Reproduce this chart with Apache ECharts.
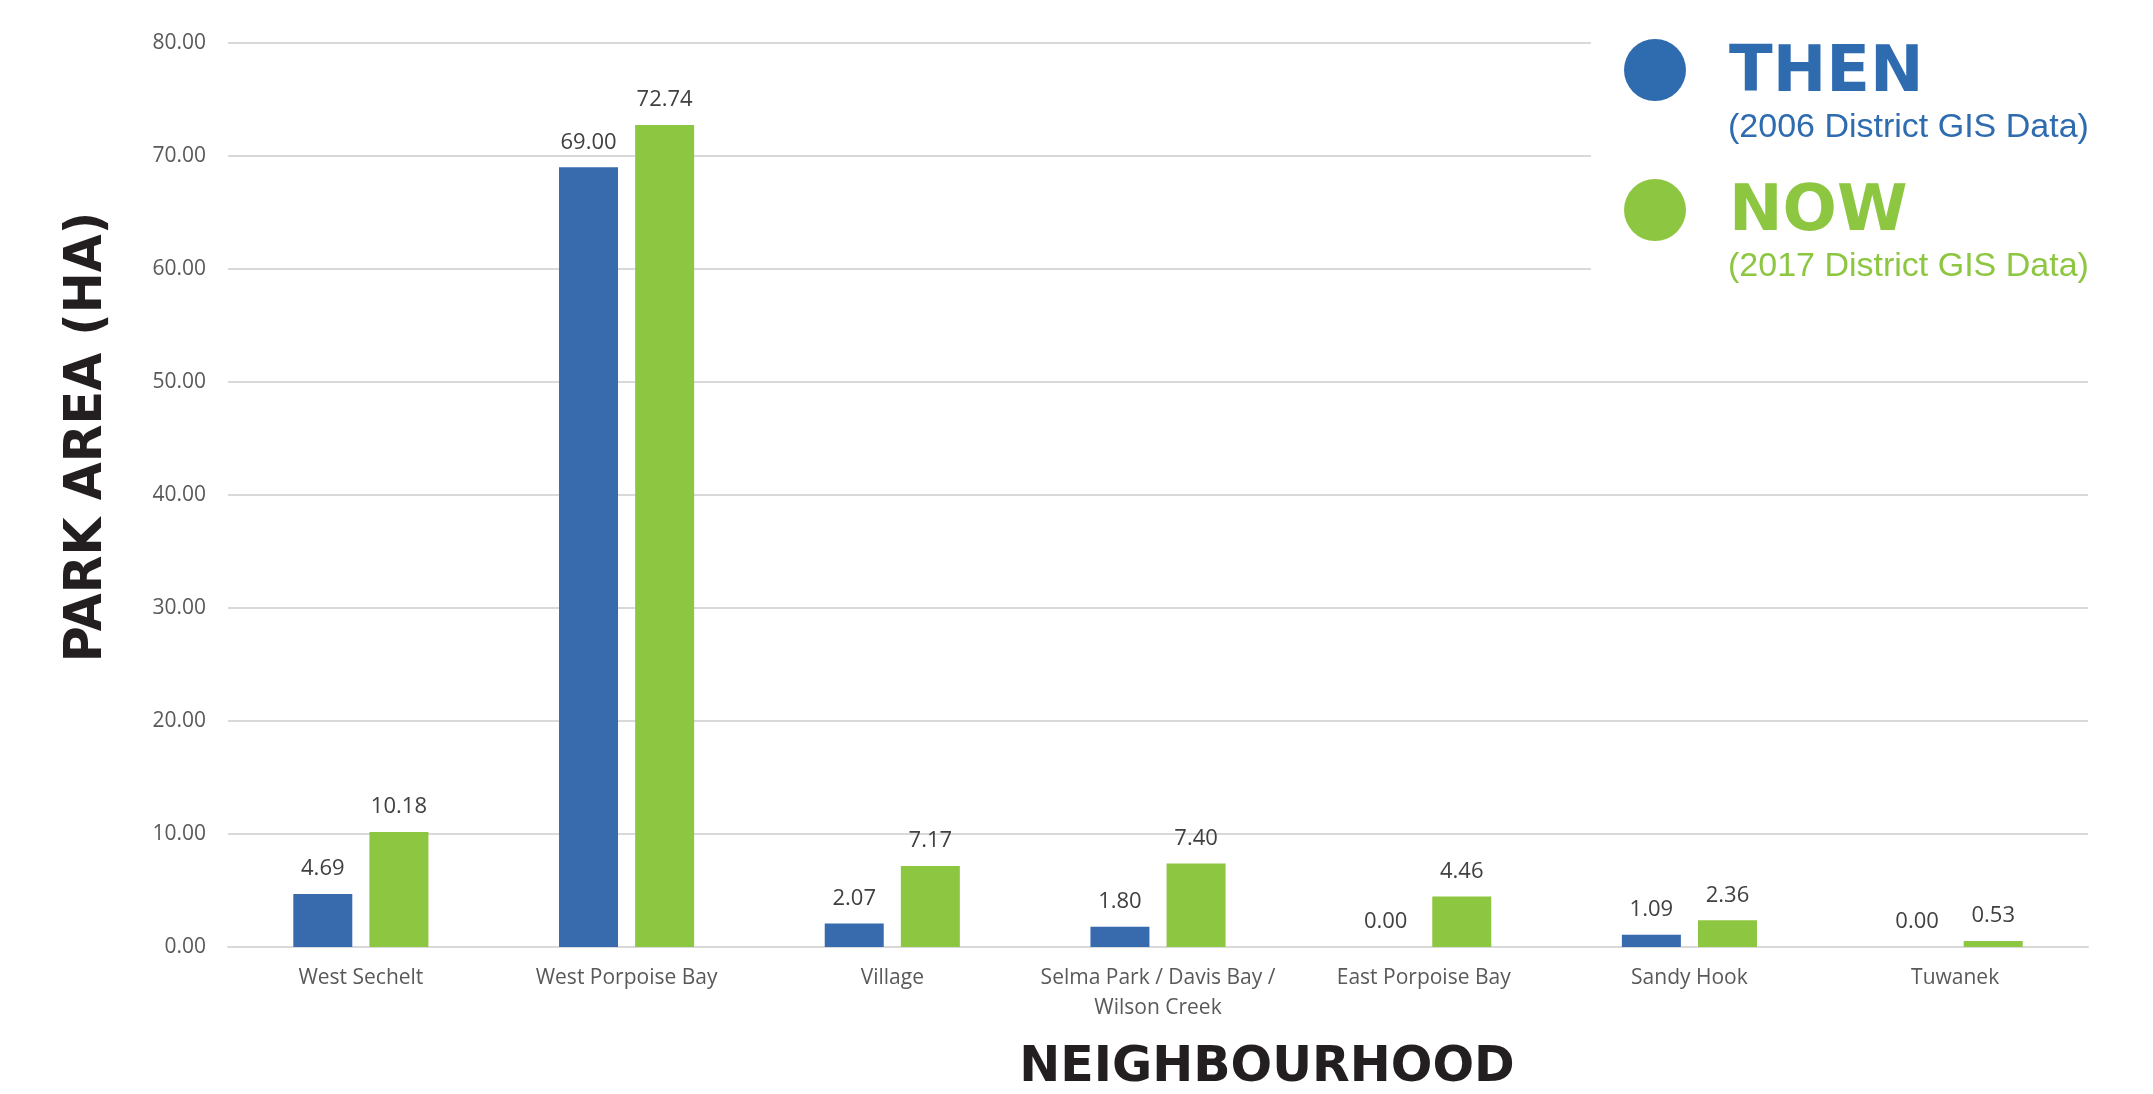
<!DOCTYPE html>
<html>
<head>
<meta charset="utf-8">
<script src="https://cdn.jsdelivr.net/npm/echarts@6/dist/echarts.min.js"></script>
<style>
html,body{margin:0;padding:0;background:#fff;}
#chart{width:2153px;height:1094px;}
</style>
</head>
<body>
<div id="chart"></div>
<script>
const categories = ["West Sechelt", "West Porpoise Bay", "Village", "Selma Park / Davis Bay /\nWilson Creek", "East Porpoise Bay", "Sandy Hook", "Tuwanek"];
const thenValues = [4.69, 69.00, 2.07, 1.80, 0.00, 1.09, 0.00];
const nowValues = [10.18, 72.74, 7.17, 7.40, 4.46, 2.36, 0.53];
const yTicks = [0, 10, 20, 30, 40, 50, 60, 70, 80];

const BLUE = '#386AAE';
const GREEN = '#8DC641';
const LEG_BLUE = '#2E6BAF';

const chart = echarts.init(document.getElementById('chart'));
const labelStyle = {
  show: true, position: 'top', distance: 14,
  fontFamily: 'Open Sans', fontSize: 22, color: '#404040',
  formatter: p => p.value.toFixed(2)
};
chart.setOption({
  animation: false,
  grid: { left: 228, right: 65, top: 43, bottom: 147 },
  xAxis: {
    type: 'category', data: categories,
    axisLine: { lineStyle: { color: '#d9d9d9', width: 2 } },
    axisTick: { show: false },
    axisLabel: { fontFamily: 'Open Sans', fontSize: 21, color: '#595959', margin: 16, lineHeight: 30, interval: 0 }
  },
  yAxis: {
    type: 'value', min: yTicks[0], max: yTicks[yTicks.length - 1], interval: 10,
    axisLine: { show: false }, axisTick: { show: false },
    splitLine: { lineStyle: { color: '#d9d9d9', width: 2 } },
    axisLabel: { fontFamily: 'Open Sans', fontSize: 21, color: '#595959', margin: 22, formatter: v => v.toFixed(2) }
  },
  series: [
    { name: 'THEN', type: 'bar', data: thenValues, barWidth: 59, barGap: '29%',
      itemStyle: { color: BLUE }, label: labelStyle },
    { name: 'NOW', type: 'bar', data: nowValues, barWidth: 59,
      itemStyle: { color: GREEN }, label: labelStyle }
  ],
  graphic: [
    { type: 'text', x: 87, y: 437, rotation: Math.PI / 2, scaleX: 1.05,
      style: { text: 'PARK AREA (HA)', fontFamily: '"DejaVu Sans Condensed", "DejaVu Sans", sans-serif', fontWeight: 'bold', fontSize: 52, fill: '#231f20', align: 'center', verticalAlign: 'middle' } },
    { type: 'text', x: 1267, y: 1068,
      style: { text: 'NEIGHBOURHOOD', fontFamily: '"DejaVu Sans"', fontWeight: 'bold', fontSize: 49, fill: '#231f20', align: 'center', verticalAlign: 'middle' } },
    { type: 'rect', z: 10, shape: { x: 1591, y: 0, width: 562, height: 310 }, style: { fill: '#ffffff' } },
    { type: 'circle', z: 11, shape: { cx: 1655, cy: 70, r: 31 }, style: { fill: LEG_BLUE } },
    { type: 'circle', z: 11, shape: { cx: 1655, cy: 210, r: 31 }, style: { fill: GREEN } },
    { type: 'text', z: 11, x: 1729, y: 74,
      style: { text: 'THEN', fontFamily: '"DejaVu Sans"', fontWeight: 'bold', fontSize: 64, fill: LEG_BLUE, align: 'left', verticalAlign: 'middle' } },
    { type: 'text', z: 11, x: 1728, y: 128,
      style: { text: '(2006 District GIS Data)', fontFamily: '"Liberation Sans", Arial, sans-serif', fontSize: 34, fill: LEG_BLUE, align: 'left', verticalAlign: 'middle' } },
    { type: 'text', z: 11, x: 1729, y: 213,
      style: { text: 'NOW', fontFamily: '"DejaVu Sans"', fontWeight: 'bold', fontSize: 64, fill: GREEN, align: 'left', verticalAlign: 'middle' } },
    { type: 'text', z: 11, x: 1728, y: 267,
      style: { text: '(2017 District GIS Data)', fontFamily: '"Liberation Sans", Arial, sans-serif', fontSize: 34, fill: GREEN, align: 'left', verticalAlign: 'middle' } }
  ]
});
</script>
</body>
</html>
